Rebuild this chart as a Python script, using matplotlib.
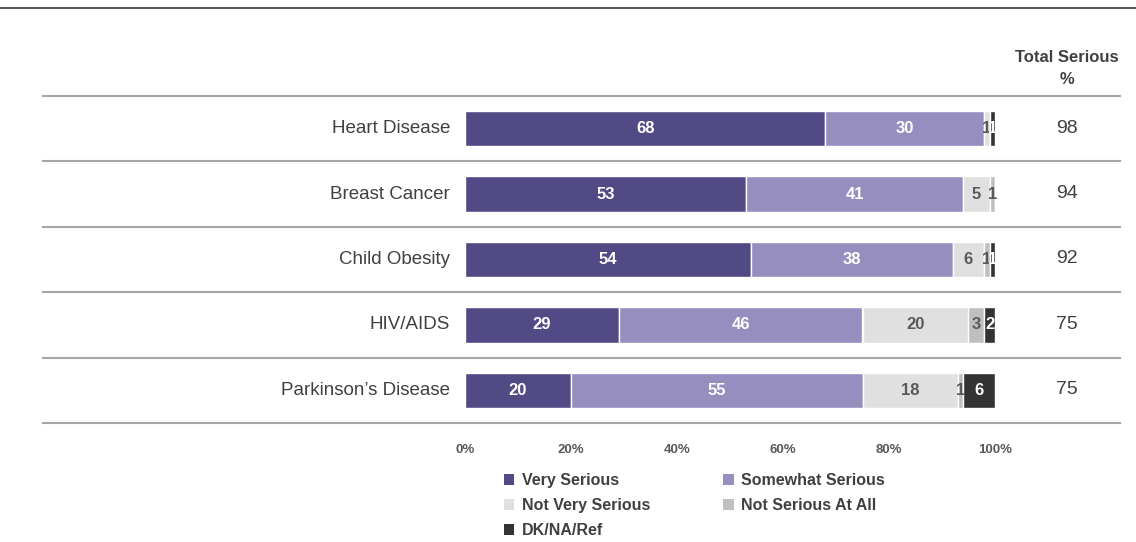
import matplotlib
matplotlib.use("Agg")
import matplotlib.pyplot as plt
from matplotlib.patches import Patch
from matplotlib.transforms import blended_transform_factory

plt.rcParams["font.family"] = ["Liberation Sans", "DejaVu Sans"]

categories = ["Heart Disease", "Breast Cancer", "Child Obesity", "HIV/AIDS", "Parkinson\u2019s Disease"]
series_names = ["Very Serious", "Somewhat Serious", "Not Very Serious", "Not Serious At All", "DK/NA/Ref"]
very_serious = [68, 53, 54, 29, 20]
somewhat_serious = [30, 41, 38, 46, 55]
not_very_serious = [1, 5, 6, 20, 18]
not_serious_at_all = [0, 1, 1, 3, 1]
dk_na_ref = [1, 0, 1, 2, 6]
total_serious = [98, 94, 92, 75, 75]
tick_values = [0, 20, 40, 60, 80, 100]
tick_labels = ["0%", "20%", "40%", "60%", "80%", "100%"]

series = [very_serious, somewhat_serious, not_very_serious, not_serious_at_all, dk_na_ref]
colors = ["#524A84", "#968EBE", "#E0E0E0", "#BFBFBF", "#333333"]
label_colors = ["white", "white", "#595959", "#595959", "white"]

W, H = 1136, 542
fig = plt.figure(figsize=(W / 100, H / 100), dpi=100)

# bar area in pixel coordinates
x0, x1 = 465, 995
y_top, y_bot = 96, 423
ax = fig.add_axes([x0 / W, 1 - y_bot / H, (x1 - x0) / W, (y_bot - y_top) / H])
ax.set_xlim(0, 100)
ax.set_ylim(len(categories) - 0.5, -0.5)
for s in ax.spines.values():
    s.set_visible(False)
ax.set_yticks([])
ax.set_xticks(tick_values)
ax.set_xticklabels(tick_labels, fontsize=9.5, fontweight="bold", color="#595959")
ax.tick_params(axis="x", length=0, pad=15)

ypos = list(range(len(categories)))
left = [0] * len(categories)
for vals, col, lc in zip(series, colors, label_colors):
    ax.barh(ypos, vals, left=left, height=0.54, color=col, edgecolor="white", linewidth=1)
    for i, v in enumerate(vals):
        if v > 0:
            ax.text(left[i] + v / 2, i, str(v), ha="center", va="center",
                    fontsize=12, fontweight="bold", color=lc)
    left = [l + v for l, v in zip(left, vals)]

# row separators spanning beyond the bar area
tr = blended_transform_factory(fig.transFigure, ax.transData)
for yb in [-0.5 + k for k in range(len(categories) + 1)]:
    ax.plot([43 / W, 1120 / W], [yb, yb], transform=tr, color="#A6A6A6",
            linewidth=1.5, clip_on=False)

# category names and totals
for i, (c, t) in enumerate(zip(categories, total_serious)):
    ax.text(450 / W, i, c, transform=tr, ha="right", va="center", fontsize=13.5, color="#404040")
    ax.text(1067 / W, i - 0.01, str(t), transform=tr, ha="center", va="center",
            fontsize=14, color="#404040")

fig.text(1067 / W, 1 - 57 / H, "Total Serious", ha="center", va="center",
         fontsize=12, fontweight="bold", color="#404040")
fig.text(1067 / W, 1 - 79 / H, "%", ha="center", va="center",
         fontsize=12, fontweight="bold", color="#404040")

# top rule
fig.add_artist(plt.Line2D([0, 1], [1 - 8 / H, 1 - 8 / H], transform=fig.transFigure,
                          color="#595959", linewidth=1.5))

handles = [Patch(facecolor=c, edgecolor="none") for c in colors]
order = [0, 2, 4, 1, 3]
leg = fig.legend([handles[k] for k in order], [series_names[k] for k in order],
                 ncol=2, loc="upper left", bbox_to_anchor=(496 / W, 1 - 465 / H),
                 frameon=False, handlelength=0.65, handleheight=0.65, handletextpad=0.45,
                 columnspacing=4.6, labelspacing=0.62, borderpad=0,
                 prop={"size": 11.5, "weight": "bold"})
for t in leg.get_texts():
    t.set_color("#404040")

fig.savefig("out.png", dpi=100)
